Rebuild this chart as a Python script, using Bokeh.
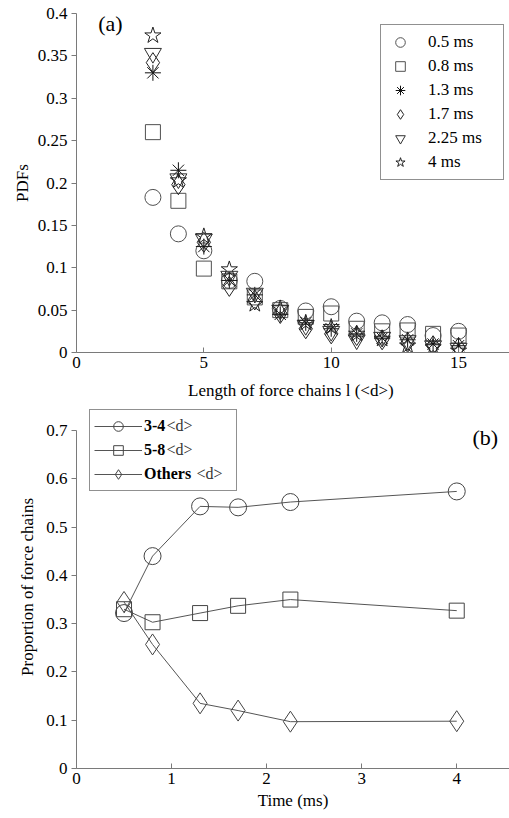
from bokeh.plotting import figure
from bokeh.layouts import column
from bokeh.models import (Legend, LegendItem, Label, FixedTicker, Range1d,
                          CustomJSTickFormatter)
from bokeh.embed import file_html
from bokeh.resources import INLINE

# ---------------- data: panel (a) ----------------
lengths = [3, 4, 5, 6, 7, 8, 9, 10, 11, 12, 13, 14, 15]
pdf_05 = [0.183, 0.140, 0.120, 0.085, 0.084, 0.052, 0.049, 0.054, 0.037, 0.035, 0.033, 0.020, 0.025]
pdf_08 = [0.260, 0.179, 0.099, 0.084, 0.065, 0.050, 0.042, 0.046, 0.028, 0.025, 0.026, 0.022, 0.020]
pdf_13 = [0.330, 0.215, 0.125, 0.085, 0.068, 0.045, 0.035, 0.028, 0.022, 0.017, 0.015, 0.010, 0.008]
pdf_17 = [0.342, 0.198, 0.130, 0.078, 0.062, 0.046, 0.028, 0.022, 0.020, 0.015, 0.012, 0.008, 0.006]
pdf_225 = [0.353, 0.205, 0.134, 0.090, 0.070, 0.050, 0.032, 0.025, 0.015, 0.018, 0.014, 0.008, 0.005]
pdf_4 = [0.374, 0.203, 0.137, 0.098, 0.057, 0.052, 0.035, 0.030, 0.022, 0.016, 0.008, 0.006, 0.002]
series_a_labels = ["0.5 ms", "0.8 ms", "1.3 ms", "1.7 ms", "2.25 ms", "4 ms"]
a_xticks = [0, 5, 10, 15]
a_yticks = [0, 0.05, 0.1, 0.15, 0.2, 0.25, 0.3, 0.35, 0.4]

# ---------------- data: panel (b) ----------------
times = [0.5, 0.8, 1.3, 1.7, 2.25, 4]
prop_34 = [0.322, 0.440, 0.543, 0.541, 0.552, 0.574]
prop_58 = [0.330, 0.303, 0.322, 0.337, 0.350, 0.327]
prop_oth = [0.345, 0.257, 0.135, 0.120, 0.097, 0.098]
series_b_labels = ["3-4", "5-8", "Others"]
b_xticks = [0, 1, 2, 3, 4]
b_yticks = [0, 0.1, 0.2, 0.3, 0.4, 0.5, 0.6, 0.7]

FONT = "Liberation Serif"
AXIS_GREY = "#7a7a7a"
fmt = CustomJSTickFormatter(code="return (Math.round(tick*100)/100).toString();")


def style(p):
    p.outline_line_color = None
    p.xgrid.visible = False
    p.ygrid.visible = False
    p.background_fill_color = "white"
    for ax in (p.xaxis[0], p.yaxis[0]):
        ax.axis_line_color = AXIS_GREY
        ax.major_tick_line_color = AXIS_GREY
        ax.minor_tick_line_color = None
        ax.major_label_text_font = FONT
        ax.major_label_text_font_size = "17px"
        ax.major_label_text_color = "black"
        ax.axis_label_text_font = FONT
        ax.axis_label_text_font_size = "17px"
        ax.axis_label_text_font_style = "normal"
        ax.axis_label_text_color = "black"
        ax.formatter = fmt
    p.xaxis[0].major_tick_in = 5
    p.xaxis[0].major_tick_out = 0
    p.yaxis[0].major_tick_in = 0
    p.yaxis[0].major_tick_out = 5
    p.xaxis[0].major_label_standoff = 4
    p.yaxis[0].major_label_standoff = 4


# ---------------- panel (a) ----------------
p1 = figure(width=509, height=405, output_backend="svg", toolbar_location=None,
            x_range=Range1d(0, 17), y_range=Range1d(0, 0.4),
            min_border_left=76, min_border_right=0, min_border_top=13,
            min_border_bottom=53)
style(p1)
p1.xaxis.ticker = FixedTicker(ticks=a_xticks)
p1.yaxis.ticker = FixedTicker(ticks=a_yticks)
p1.xaxis.axis_label = "Length of force chains l  (<d>)"
p1.yaxis.axis_label = "PDFs"
p1.xaxis.axis_label_standoff = 10
p1.yaxis.axis_label_standoff = 3

markers_a = ["circle", "square", "asterisk", "diamond", "inverted_triangle", "star"]
sizes_a = [16, 15, 16, 20, 17, 17]
colors_a = ["#505050", "#505050", "#111111", "#222222", "#303030", "#222222"]
data_a = [pdf_05, pdf_08, pdf_13, pdf_17, pdf_225, pdf_4]
items_a = []
for lab, mk, sz, col, ys in zip(series_a_labels, markers_a, sizes_a, colors_a, data_a):
    r = p1.scatter(lengths, ys, marker=mk, size=sz, line_color=col,
                   fill_color=None, line_width=1)
    items_a.append(LegendItem(label=lab, renderers=[r]))

leg_a = Legend(items=items_a, location=(304, 172), orientation="vertical",
               label_text_font=FONT, label_text_font_size="17px",
               label_text_color="black", glyph_width=28, glyph_height=24,
               label_height=24, label_standoff=14, padding=5, spacing=0,
               margin=0, label_width=70,
               border_line_color="#222222", border_line_width=1,
               background_fill_color="white", background_fill_alpha=1.0)
p1.add_layout(leg_a, "center")
p1.add_layout(Label(x=1.33, y=0.388, text="(a)", text_font=FONT,
                    text_font_size="22px", text_align="center",
                    text_baseline="middle", text_color="black"))

# ---------------- panel (b) ----------------
p2 = figure(width=509, height=413, output_backend="svg", toolbar_location=None,
            x_range=Range1d(0, 4.555), y_range=Range1d(0, 0.752),
            min_border_left=76, min_border_right=0, min_border_top=0,
            min_border_bottom=50)
style(p2)
p2.xaxis.ticker = FixedTicker(ticks=b_xticks)
p2.yaxis.ticker = FixedTicker(ticks=b_yticks)
p2.yaxis.bounds = (0, 0.7)
p2.xaxis.axis_label = "Time (ms)"
p2.yaxis.axis_label = "Proportion of force chains"
p2.xaxis.axis_label_standoff = 4
p2.yaxis.axis_label_standoff = 6

markers_b = ["circle", "square", "diamond"]
sizes_b = [17, 15, 21]
data_b = [prop_34, prop_58, prop_oth]
items_b = []
for lab, mk, sz, ys in zip(series_b_labels, markers_b, sizes_b, data_b):
    ln = p2.line(times, ys, line_color="#555555", line_width=1)
    sc = p2.scatter(times, ys, marker=mk, size=sz, line_color="#444444",
                    fill_color=None, line_width=1)
    items_b.append(LegendItem(label=lab, renderers=[ln, sc]))

leg_b = Legend(items=items_b, location=(13, 277), orientation="vertical",
               label_text_font=FONT, label_text_font_size="16px",
               label_text_font_style="bold",
               label_text_color="black", glyph_width=48, glyph_height=24,
               label_height=24, label_standoff=2, padding=4, spacing=0,
               margin=0, label_width=88,
               border_line_color="#222222", border_line_width=1,
               background_fill_color="white", background_fill_alpha=0.0)
p2.add_layout(leg_b, "center")

# "<d>" suffixes of the legend labels (regular weight)
for sx, sy in [(90, 343), (90, 319), (120, 295)]:
    p2.add_layout(Label(x=sx, y=sy, x_units="screen", y_units="screen",
                        text="<d>", text_font=FONT, text_font_size="16px",
                        text_baseline="middle", text_align="left",
                        text_color="#333333", level="overlay"))

p2.add_layout(Label(x=4.3, y=0.686, text="(b)", text_font=FONT,
                    text_font_size="22px", text_align="center",
                    text_baseline="middle", text_color="black"))

layout = column(p1, p2, spacing=0)
open("out.html", "w").write(file_html(layout, INLINE))
